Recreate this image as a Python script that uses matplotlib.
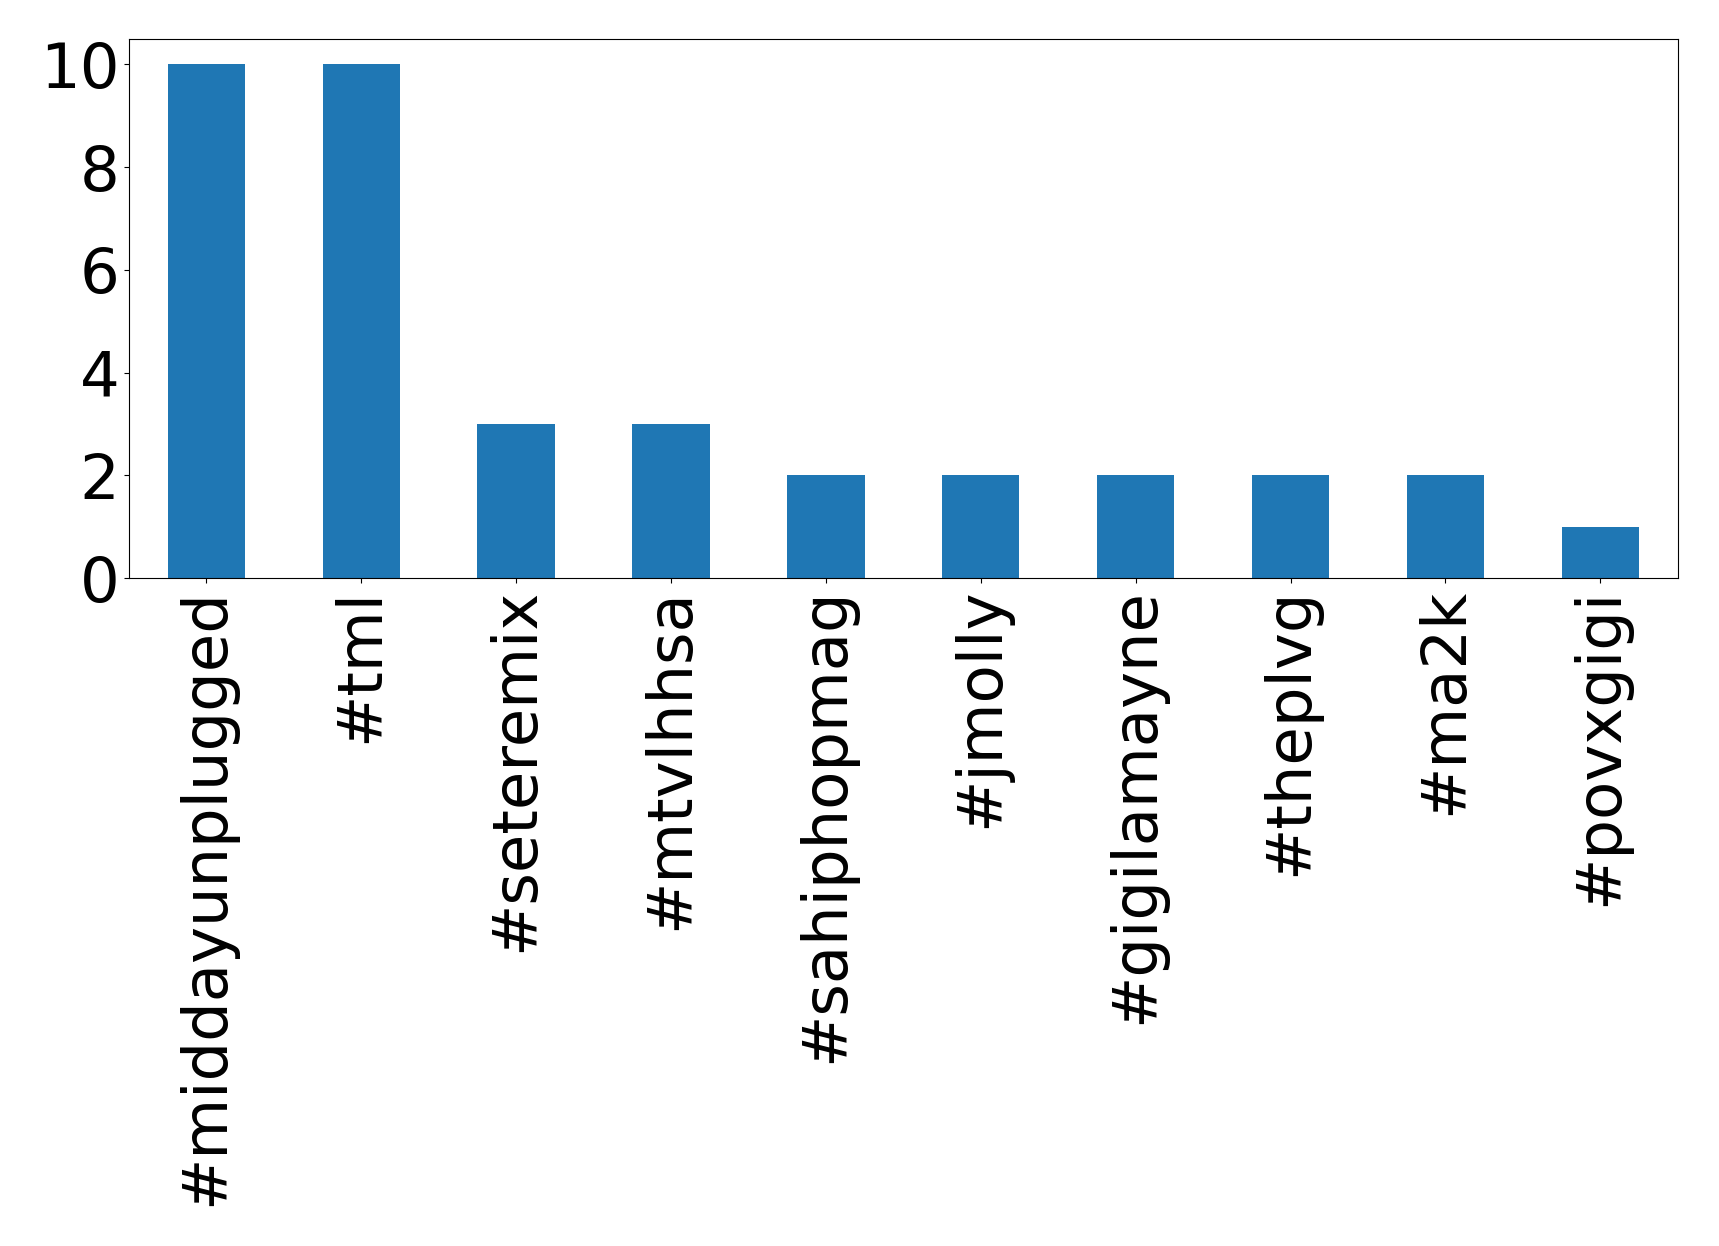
import matplotlib
matplotlib.use("Agg")
import matplotlib.pyplot as plt

hashtags = ['#middayunplugged', '#tml', '#seteremix', '#mtvlhhsa', '#sahiphopmag',
            '#jmolly', '#gigilamayne', '#theplvg', '#ma2k', '#povxgigi']
counts = [10, 10, 3, 3, 2, 2, 2, 2, 2, 1]

fig = plt.figure(figsize=(17.19, 12.46), dpi=100)
ax = fig.add_axes([0.075, 0.536, 0.901, 0.433])
ax.bar(range(len(hashtags)), counts, width=0.5, color='#1f77b4')
ax.set_xlim(-0.5, len(hashtags) - 0.5)
ax.set_xticks(range(len(hashtags)))
ax.set_xticklabels(hashtags, rotation=90)
ax.set_yticks([0, 2, 4, 6, 8, 10])
ax.tick_params(labelsize=45)
fig.savefig('out.png', dpi=100)
